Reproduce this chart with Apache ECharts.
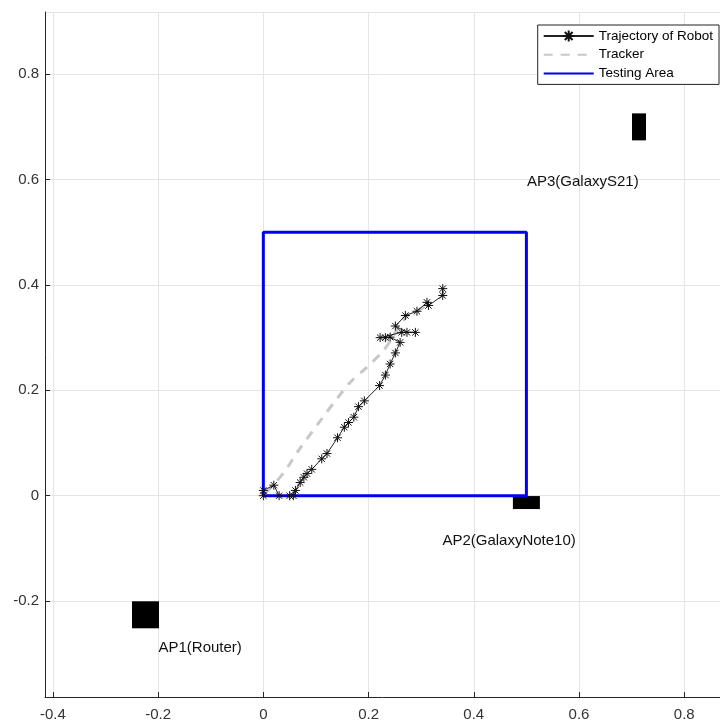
<!DOCTYPE html>
<html>
<head>
<meta charset="utf-8">
<title>Trajectory of Robot</title>
<script src="https://cdn.jsdelivr.net/npm/echarts@6/dist/echarts.min.js"></script>
<style>
    html, body { margin: 0; padding: 0; background: #fff; }
    #echart1 { width: 720px; height: 722px; }
</style>
</head>
<body>
<div id="echart1"></div>
<script>
// ====================数据====================
// 机器人轨迹 (x, y)
var trajX = [0.000, 0.000, 0.020, 0.030, 0.050, 0.057, 0.061, 0.070, 0.077, 0.083, 0.092, 0.111, 0.121, 0.141, 0.154, 0.162,
    0.172, 0.181, 0.192, 0.221, 0.232, 0.241, 0.251, 0.260, 0.241, 0.232, 0.222, 0.263, 0.289, 0.273, 0.251, 0.270,
    0.292, 0.311, 0.314, 0.341, 0.341];
var trajY = [0.000, 0.010, 0.020, 0.000, 0.000, 0.000, 0.010, 0.025, 0.035, 0.042, 0.050, 0.070, 0.080, 0.110, 0.130, 0.139,
    0.149, 0.169, 0.180, 0.209, 0.229, 0.250, 0.271, 0.291, 0.301, 0.300, 0.300, 0.310, 0.310, 0.310, 0.322, 0.342,
    0.350, 0.367, 0.361, 0.380, 0.393];
// 跟踪器
var trackX = [0.005, 0.039, 0.067, 0.111, 0.140, 0.165, 0.197, 0.228, 0.245, 0.258, 0.275, 0.300, 0.320];
var trackY = [0.005, 0.044, 0.086, 0.146, 0.184, 0.215, 0.244, 0.275, 0.300, 0.322, 0.342, 0.355, 0.366];
// 测试区域
var areaX = [0, 0.5, 0.5, 0, 0];
var areaY = [0, 0, 0.5, 0.5, 0];
// AP 位置
var apNames = ['AP1(Router)', 'AP2(GalaxyNote10)', 'AP3(GalaxyS21)'];
var apX = [-0.224, 0.500, 0.714];
var apY = [-0.226, -0.013, 0.700];

function pairs(xs, ys) {
    var arr = [];
    for (var i = 0; i < xs.length; i++) {
        arr.push([xs[i], ys[i]]);
    }
    return arr;
}

// AP 方块大小和标签偏移
var apSize = [[27, 27], [27, 13], [14, 27]];
var apOffset = [[13, 33], [-84, 38], [-112, 55]];
var apData = [];
for (var k = 0; k < apNames.length; k++) {
    apData.push({
        name: apNames[k],
        value: [apX[k], apY[k]],
        symbolSize: apSize[k],
        label: { offset: apOffset[k] }
    });
}

var starPath = 'path://M0,-10L0,10M-10,0L10,0M-7,-7L7,7M-7,7L7,-7';
var font = '"Liberation Sans", Arial, sans-serif';
var noMarker = { opacity: 0, color: 'rgba(0,0,0,0)', borderWidth: 0 }; // 图例里不画圆点

/*====================echart====================*/
var myChart1 = echarts.init(document.getElementById('echart1'));
var option1 = {
    animation: false,
    backgroundColor: '#fff',
    legend: {
        right: 1,
        top: 25,
        orient: 'vertical',
        align: 'left',
        itemWidth: 50,
        itemHeight: 14,
        itemGap: 4.7,
        padding: [4, 6, 4, 5],
        borderColor: '#222',
        borderWidth: 1,
        backgroundColor: '#fff',
        textStyle: { fontFamily: font, fontSize: 13.5, color: '#000' },
        data: [
            'Trajectory of Robot',
            { name: 'Tracker', itemStyle: noMarker },
            { name: 'Testing Area', itemStyle: noMarker }
        ]
    },
    grid: {
        left: 45,
        right: 0,
        top: 12,
        bottom: 25
    },
    xAxis: {
        type: 'value',
        min: -0.415,
        max: 0.868,
        splitNumber: 6,
        axisLine: { onZero: false, lineStyle: { color: '#262626', width: 1 } },
        axisTick: { inside: true, length: 5, lineStyle: { color: '#262626' } },
        axisLabel: {
            showMinLabel: false,
            showMaxLabel: false,
            margin: 10,
            fontFamily: font,
            fontSize: 15,
            color: '#333'
        },
        splitLine: { lineStyle: { color: '#e4e4e4' } }
    },
    yAxis: {
        type: 'value',
        min: -0.382,
        max: 0.918,
        splitNumber: 6,
        axisLine: { show: true, onZero: false, lineStyle: { color: '#262626', width: 1 } },
        axisTick: { show: true, inside: true, length: 5, lineStyle: { color: '#262626' } },
        axisLabel: {
            showMinLabel: false,
            showMaxLabel: false,
            margin: 6,
            fontFamily: font,
            fontSize: 15,
            color: '#333'
        },
        splitLine: { lineStyle: { color: '#e4e4e4' } }
    },
    series: [{
            name: 'Testing Area',
            type: 'line',
            symbol: 'none',
            color: '#0000ee',
            lineStyle: { color: '#0000ee', width: 3 },
            data: pairs(areaX, areaY)
        },
        {
            name: 'Tracker',
            type: 'line',
            symbol: 'none',
            smooth: 0.3,
            color: '#c8c8c8',
            lineStyle: { color: '#c8c8c8', width: 3, type: [9, 8] },
            data: pairs(trackX, trackY)
        },
        {
            name: 'Trajectory of Robot',
            type: 'line',
            symbol: starPath,
            symbolSize: 9,
            color: '#111',
            itemStyle: { color: '#111', borderColor: '#111', borderWidth: 1 },
            lineStyle: { color: '#222', width: 1 },
            data: pairs(trajX, trajY)
        },
        {
            name: 'AP',
            type: 'scatter',
            symbol: 'rect',
            itemStyle: { color: '#000', opacity: 1 },
            label: {
                show: true,
                position: 'inside',
                align: 'left',
                verticalAlign: 'middle',
                formatter: '{b}',
                fontFamily: font,
                fontSize: 15,
                color: '#111'
            },
            data: apData
        }
    ]
};

// ====================调用echarts========================//
myChart1.setOption(option1);
</script>
</body>
</html>
